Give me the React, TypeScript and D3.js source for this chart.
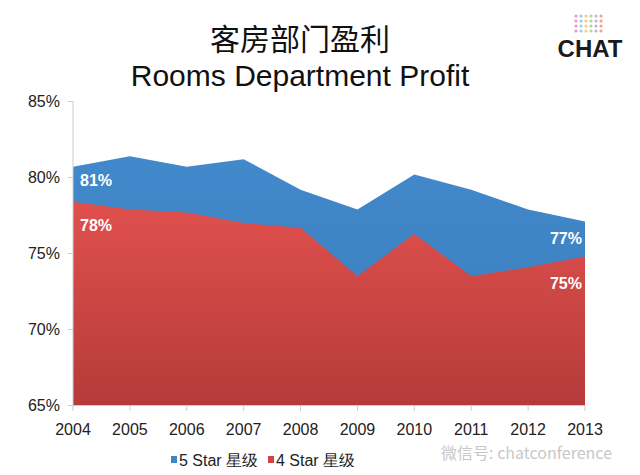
import React from "react";
import * as d3 from "d3";

const years = ["2004", "2005", "2006", "2007", "2008", "2009", "2010", "2011", "2012", "2013"];
const fiveStar = [80.7, 81.4, 80.7, 81.2, 79.2, 77.9, 80.2, 79.2, 77.9, 77.1];
const fourStar = [78.4, 77.9, 77.7, 77.0, 76.7, 73.5, 76.3, 73.5, 74.1, 74.8];
const yTicks = [65, 70, 75, 80, 85];

const W = 640;
const H = 475;
const fontEn = "Liberation Sans, Arial, sans-serif";
const fontCn = "'Noto Sans CJK SC', sans-serif";

export default function App() {
  const x = d3.scalePoint<string>().domain(years).range([73, 585]);
  const y = d3.scaleLinear().domain([65, 85]).range([405.5, 101.5]);

  const area = d3.area<number>()
    .x((d, i) => x(years[i]) as number)
    .y0(y(65))
    .y1(d => y(d));

  const x0 = x(years[0]) as number;
  const x9 = x(years[9]) as number;

  return (
    <div style={{ margin: -8 }}>
      <svg width={W} height={H} style={{ display: "block", background: "#fff" }}>
        <defs>
          <linearGradient id="redGrad" x1="0" y1="0" x2="0" y2="1">
            <stop offset="0" stopColor="#e0504d" />
            <stop offset="1" stopColor="#b53b3a" />
          </linearGradient>
          <linearGradient id="blueGrad" x1="0" y1="0" x2="0" y2="1">
            <stop offset="0" stopColor="#4289cb" />
            <stop offset="1" stopColor="#3a7cba" />
          </linearGradient>
        </defs>

        <text x={300} y={50} textAnchor="middle" fontFamily={fontCn} fontSize={30} fill="#111">客房部门盈利</text>
        <text x={300} y={86} textAnchor="middle" fontFamily={fontEn} fontSize={30} fill="#111">Rooms Department Profit</text>

        {/* CHAT logo */}
        <g>
          {d3.range(24).map(i => (
            <circle key={i}
              cx={576 + (i % 6) * 5}
              cy={16 + Math.floor(i / 6) * 5}
              r={1.6}
              fill={["#e27fb5", "#7cc3e8", "#f3c35b", "#9ccf7b", "#b39ddb", "#f08a6b"][i % 6]}
              opacity={0.8} />
          ))}
          <text x={590} y={57} textAnchor="middle" fontFamily={fontEn} fontWeight="bold" fontSize={24} fill="#1a1a1a">CHAT</text>
        </g>

        <path d={area(fiveStar) ?? ""} fill="url(#blueGrad)" />
        <path d={area(fourStar) ?? ""} fill="url(#redGrad)" />

        {/* axes */}
        <line x1={73} x2={73} y1={101.5} y2={405.5} stroke="#ccc" />
        <line x1={73} x2={585} y1={405.5} y2={405.5} stroke="#ccc" />
        {yTicks.map(t => (
          <g key={t}>
            <line x1={68} x2={73} y1={y(t)} y2={y(t)} stroke="#ccc" />
            <text x={60} y={y(t)} dy="0.35em" textAnchor="end" fontFamily={fontEn} fontSize={16} fill="#222">{t}%</text>
          </g>
        ))}
        {years.map(yr => (
          <g key={yr}>
            <line x1={x(yr)} x2={x(yr)} y1={405.5} y2={411} stroke="#ccc" />
            <text x={x(yr)} y={435} textAnchor="middle" fontFamily={fontEn} fontSize={16} fill="#222">{yr}</text>
          </g>
        ))}

        {/* value labels */}
        <text x={x0 + 7} y={y(fiveStar[0]) + 19} fontFamily={fontEn} fontWeight="bold" fontSize={16} fill="#fff">81%</text>
        <text x={x0 + 7} y={y(fourStar[0]) + 29} fontFamily={fontEn} fontWeight="bold" fontSize={16} fill="#fff">78%</text>
        <text x={x9 - 3} y={y(fiveStar[9]) + 22} textAnchor="end" fontFamily={fontEn} fontWeight="bold" fontSize={16} fill="#fff">77%</text>
        <text x={x9 - 3} y={y(fourStar[9]) + 32} textAnchor="end" fontFamily={fontEn} fontWeight="bold" fontSize={16} fill="#fff">75%</text>

        {/* watermark */}
        <text x={612} y={459} textAnchor="end" fontFamily={fontCn} fontSize={16} fill="#c8c8c8">微信号: chatconference</text>

        {/* legend */}
        <rect x={171} y={456} width={6} height={7} fill="#3f86c6" />
        <text x={179} y={466} fontFamily={fontEn} fontSize={16} fill="#222">5 Star 星级</text>
        <rect x={268} y={456} width={6} height={7} fill="#cf4543" />
        <text x={276} y={466} fontFamily={fontEn} fontSize={16} fill="#222">4 Star 星级</text>
      </svg>
    </div>
  );
}
